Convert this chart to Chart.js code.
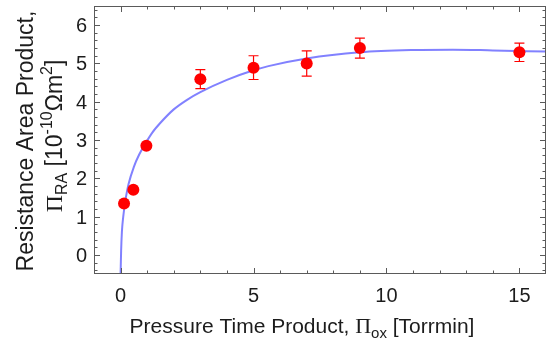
<!DOCTYPE html>
<html>
<head>
<meta charset="utf-8">
<script src="https://cdn.jsdelivr.net/npm/chart.js@4.4.1/dist/chart.umd.min.js"></script>
<style>
  html, body { margin: 0; padding: 0; background: #fff; overflow: hidden; }
  #wrap { width: 552px; height: 351px; }
</style>
</head>
<body>
<div id="wrap"><canvas id="c" width="552" height="351"></canvas></div>
<script>
// Measured resistance-area product vs. oxidation pressure-time product
const pressureTime = [0.13, 0.48, 0.97, 3, 5, 7, 9, 15];
const resistanceArea = [1.34, 1.70, 2.85, 4.59, 4.89, 5.0, 5.4, 5.29];
const errorSize = [0, 0, 0, 0.25, 0.31, 0.33, 0.26, 0.24];

// Fitted model curve, sampled
const fitX = [0.0, 0.02, 0.05, 0.1, 0.2, 0.3, 0.5, 0.7, 0.9, 1.2, 1.5, 2.0, 2.5, 3.0, 4.0, 5.0, 5.56, 7.0, 9.0, 11.0, 12.5, 14.0, 16.0];
const fitY = [-0.5, 0.1, 0.61, 1.0, 1.5, 1.85, 2.3, 2.62, 2.87, 3.2, 3.45, 3.8, 4.05, 4.25, 4.57, 4.82, 4.93, 5.13, 5.29, 5.35, 5.36, 5.34, 5.31];

// Axis ticks
const xMajorTicks = [0, 5, 10, 15];
const xMinorTicks = [-1, 1, 2, 3, 4, 6, 7, 8, 9, 11, 12, 13, 14, 16];
const yMajorTicks = [0, 1, 2, 3, 4, 5, 6];
const yMinorStep = 0.2;

const SANS = '"Liberation Sans", Arial, sans-serif';
const SERIF = '"Liberation Serif", "Times New Roman", serif';
const FRAME = '#5a5a5a';
const TEXT = '#1c1c1c';

// draw a run of text pieces (font size, family, vertical shift) centred on (0,0) baseline
function richText(ctx, parts, align) {
  let total = 0;
  parts.forEach(p => { ctx.font = p.size + 'px ' + p.family; p.w = ctx.measureText(p.text).width; total += p.w; });
  let x = align === 'center' ? -total / 2 : 0;
  parts.forEach(p => {
    ctx.font = p.size + 'px ' + p.family;
    ctx.fillText(p.text, x, p.dy || 0);
    x += p.w;
  });
}

const framePlugin = {
  id: 'frame',
  afterDatasetsDraw(chart) {
    const ctx = chart.ctx;
    const xs = chart.scales.x, ys = chart.scales.y;

    // error bars
    ctx.save();
    ctx.strokeStyle = '#ff0000';
    ctx.lineWidth = 1.2;
    pressureTime.forEach((xv, i) => {
      const e = errorSize[i];
      if (!e) return;
      const px = xs.getPixelForValue(xv);
      const top = ys.getPixelForValue(resistanceArea[i] + e);
      const bot = ys.getPixelForValue(resistanceArea[i] - e);
      ctx.beginPath();
      ctx.moveTo(px, top); ctx.lineTo(px, bot);
      ctx.moveTo(px - 5, top); ctx.lineTo(px + 5, top);
      ctx.moveTo(px - 5, bot); ctx.lineTo(px + 5, bot);
      ctx.stroke();
    });
    ctx.restore();
  },
  afterDraw(chart) {
    const ctx = chart.ctx;
    const xs = chart.scales.x, ys = chart.scales.y;
    const a = chart.chartArea;
    ctx.save();
    ctx.strokeStyle = FRAME;
    ctx.lineWidth = 1;
    ctx.strokeRect(a.left + 0.5, a.top + 0.5, a.right - a.left - 1, a.bottom - a.top - 1);

    // ticks on all four sides, pointing inward
    ctx.beginPath();
    const xt = (v, len) => {
      const p = Math.round(xs.getPixelForValue(v)) + 0.5;
      ctx.moveTo(p, a.bottom); ctx.lineTo(p, a.bottom - len);
      ctx.moveTo(p, a.top); ctx.lineTo(p, a.top + len);
    };
    const yt = (v, len) => {
      const p = Math.round(ys.getPixelForValue(v)) + 0.5;
      ctx.moveTo(a.left, p); ctx.lineTo(a.left + len, p);
      ctx.moveTo(a.right, p); ctx.lineTo(a.right - len, p);
    };
    xMajorTicks.forEach(v => xt(v, 6));
    xMinorTicks.forEach(v => xt(v, 3.5));
    for (let k = -2; k <= 32; k++) {
      const v = k * yMinorStep;
      if (v < ys.min || v > ys.max) continue;
      const isMajor = Math.abs(v - Math.round(v)) < 1e-6;
      yt(v, isMajor ? 6 : 3.5);
    }
    ctx.stroke();

    // tick labels
    ctx.fillStyle = TEXT;
    ctx.font = '20px ' + SANS;
    ctx.textAlign = 'center';
    ctx.textBaseline = 'alphabetic';
    xMajorTicks.forEach(v => ctx.fillText(String(v), xs.getPixelForValue(v), a.bottom + 28));
    ctx.textAlign = 'right';
    yMajorTicks.forEach(v => ctx.fillText(String(v), a.left - 7, ys.getPixelForValue(v) + 7));

    // x axis title
    ctx.textAlign = 'left';
    ctx.save();
    ctx.translate(302, 333);
    richText(ctx, [
      { text: 'Pressure Time Product, ', size: 21, family: SANS },
      { text: 'Π', size: 22, family: SERIF },
      { text: 'ox', size: 15, family: SANS, dy: 5 },
      { text: ' [Torrmin]', size: 21, family: SANS }
    ], 'center');
    ctx.restore();

    // y axis title, two lines
    ctx.save();
    ctx.translate(33, 141);
    ctx.rotate(-Math.PI / 2);
    richText(ctx, [{ text: 'Resistance Area Product,', size: 23, family: SANS }], 'center');
    ctx.restore();

    ctx.save();
    ctx.translate(62, 136);
    ctx.rotate(-Math.PI / 2);
    richText(ctx, [
      { text: 'Π', size: 24, family: SERIF },
      { text: 'RA', size: 16, family: SANS, dy: 5 },
      { text: ' [10', size: 23, family: SANS },
      { text: '-10', size: 16, family: SANS, dy: -10 },
      { text: 'Ωm', size: 23, family: SANS },
      { text: '2', size: 16, family: SANS, dy: -10 },
      { text: ']', size: 23, family: SANS }
    ], 'center');
    ctx.restore();

    ctx.restore();
  }
};

new Chart(document.getElementById('c'), {
  type: 'scatter',
  data: {
    datasets: [
      {
        type: 'line',
        data: fitX.map((x, i) => ({ x, y: fitY[i] })),
        borderColor: 'rgba(115,115,255,0.9)',
        borderWidth: 2,
        pointRadius: 0,
        cubicInterpolationMode: 'monotone',
        fill: false,
        order: 2
      },
      {
        data: pressureTime.map((x, i) => ({ x, y: resistanceArea[i] })),
        backgroundColor: '#ff0000',
        borderWidth: 0,
        pointRadius: 6,
        order: 1
      }
    ]
  },
  options: {
    responsive: false,
    animation: false,
    devicePixelRatio: 1,
    layout: { padding: { left: 94, right: 2, top: 0, bottom: 77 } },
    plugins: { legend: { display: false }, tooltip: { enabled: false } },
    scales: {
      x: { type: 'linear', min: -1, max: 16, display: false },
      y: { type: 'linear', min: -0.5, max: 6.5, display: false }
    }
  },
  plugins: [framePlugin]
});
</script>
</body>
</html>
